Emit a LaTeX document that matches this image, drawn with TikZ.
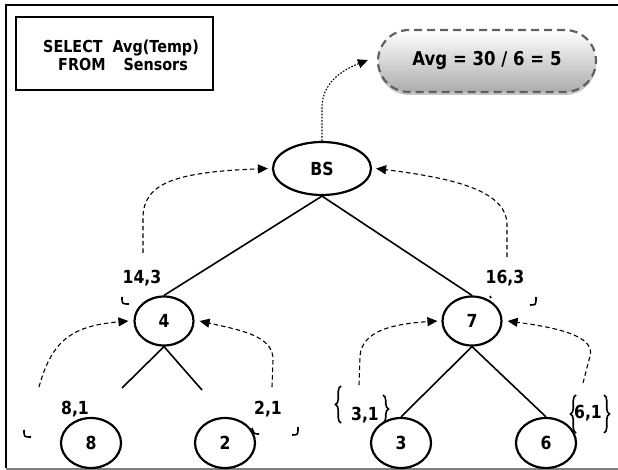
\documentclass[tikz,border=0pt]{standalone}
\usepackage{fontspec}
\setmainfont{DejaVu Sans}[FakeStretch=0.87]
\usetikzlibrary{shapes.geometric,arrows.meta,shadows,decorations.pathreplacing}

\begin{document}
\begin{tikzpicture}[x=1pt,y=-1pt,
  every node/.style={font=\fontsize{18}{21}\selectfont\bfseries},
  sensor/.style={ellipse,draw,line width=2.2pt,minimum width=59pt,minimum height=49pt,inner sep=0pt},
  link/.style={line width=1.6pt},
  report/.style={dash pattern=on 4.5pt off 3pt,line width=1.1pt,-{Triangle[length=10pt,width=9pt]}},
  result/.style={dash pattern=on 1.6pt off 1.6pt,line width=1.1pt,-{Triangle[length=10pt,width=9pt]}},
  partial/.style={inner sep=0pt},
  hook/.style={line width=1.6pt},
  bracepair/.style={decorate,decoration={brace,amplitude=5.5pt},line width=1.6pt}]

\useasboundingbox (0,0) rectangle (618,470);

% page frame
\draw[line width=2.6pt] (6,468) -- (6,5) -- (620,5);
\draw[gray, line width=1.4pt] (6,468.8) -- (618,468.8);

% query
\node[draw,line width=1.8pt,minimum width=197pt,minimum height=73pt,inner sep=0pt]
  (qbox) at (114.5,53.5) {};
\node[inner sep=0pt,anchor=west,font=\fontsize{16.5}{18}\selectfont\bfseries] (query) at (43,58)
  {\begin{tabular}{@{}l@{}}SELECT\hspace{10pt}Avg(Temp)\\ \hspace{15pt}FROM\hspace{18pt}Sensors\end{tabular}};

% final result
\node[rounded corners=31pt,minimum width=218pt,minimum height=62pt,
      top color=white,bottom color=gray!65,
      draw=gray!75!black,line width=2.2pt,dash pattern=on 8pt off 5pt,
      drop shadow={shadow xshift=0pt,shadow yshift=-3pt,fill=gray!45,opacity=1},
      font=\fontsize{19}{22}\selectfont\bfseries]
  (avg) at (487,61) {Avg = 30 / 6 = 5};

% tree
\node[sensor,minimum width=98pt,minimum height=53pt] (bs) at (322,168.5) {BS};
\node[sensor] (n4) at (164,321) {4};
\node[sensor] (n7) at (472,321) {7};
\node[sensor,minimum width=60pt,minimum height=50pt] (n8) at (91,443) {8};
\node[sensor,minimum width=60pt,minimum height=50pt] (n2) at (225,443) {2};
\node[sensor,minimum width=60pt,minimum height=50pt] (n3) at (401,443) {3};
\node[sensor,minimum width=60pt,minimum height=50pt] (n6) at (546,443) {6};

\coordinate (c48) at (122,388);
\coordinate (c42) at (202,390);

\draw[link] (bs.south) -- (n4.north);
\draw[link] (bs.south) -- (n7.north);
\draw[link] (n4.south) -- (c48);
\draw[link] (n4.south) -- (c42);
\draw[link] (n7.south) -- (n3.north);
\draw[link] (n7.south) -- (n6.north);

% partial aggregates
\node[partial] (p4) at (142,278) {14,3};
\node[partial] (p7) at (505,278) {16,3};
\node[partial] (p8) at (75,409) {8,1};
\node[partial] (p2) at (268,409) {2,1};
\node[partial] (p3) at (365,415) {3,1};
\node[partial] (p6) at (588,413) {6,1};

% report paths
\coordinate (s4) at (143,253);
\coordinate (s7) at (507,257);
\coordinate (s8) at (39,387);
\coordinate (s2) at (272,387);
\coordinate (s3) at (359,385);
\coordinate (s6) at (583,383);

\draw[report] (s4) -- (143,218) .. controls (143,182) and (178,172) .. ([xshift=-4pt]bs.west);
\draw[report] (s7) -- (507,225) .. controls (507,190) and (452,178) .. ([xshift=4pt]bs.east);
\draw[report] (s8) .. controls (52,340) and (72,326) .. ([xshift=-5pt]n4.west);
\draw[report] (s2) -- (273,360) .. controls (274,336) and (240,330) .. ([xshift=5pt]n4.east);
\draw[report] (s3) -- (360,356) .. controls (362,331) and (392,324) .. ([xshift=-4pt]n7.west);
\draw[report] (s6) -- (590,356) .. controls (596,335) and (552,327) .. ([xshift=5pt]n7.east);
\draw[result] (bs.north) -- (322,108) .. controls (322,84) and (340,71) .. ([shift={(-9pt,1pt)}]avg.west);

% bracket fragments
\draw[hook] (122,297) .. controls (122,304) .. (129,304);
\draw[hook] (536,297) .. controls (536,305) .. (530,305);
\draw[hook] (490,296) -- (491,298);
\draw[hook] (24,430) .. controls (24,437) .. (31,437);
\draw[hook] (252,428) .. controls (254,434) .. (259,434);
\draw[hook] (298,427) .. controls (298,435) .. (292,435);

% braces
\draw[bracepair] (341,423) -- (341,386);
\draw[bracepair] (383,395) -- (383,423);
\draw[bracepair] (576,433) -- (576,395);
\draw[bracepair] (604,395) -- (604,433);
\end{tikzpicture}
\end{document}
